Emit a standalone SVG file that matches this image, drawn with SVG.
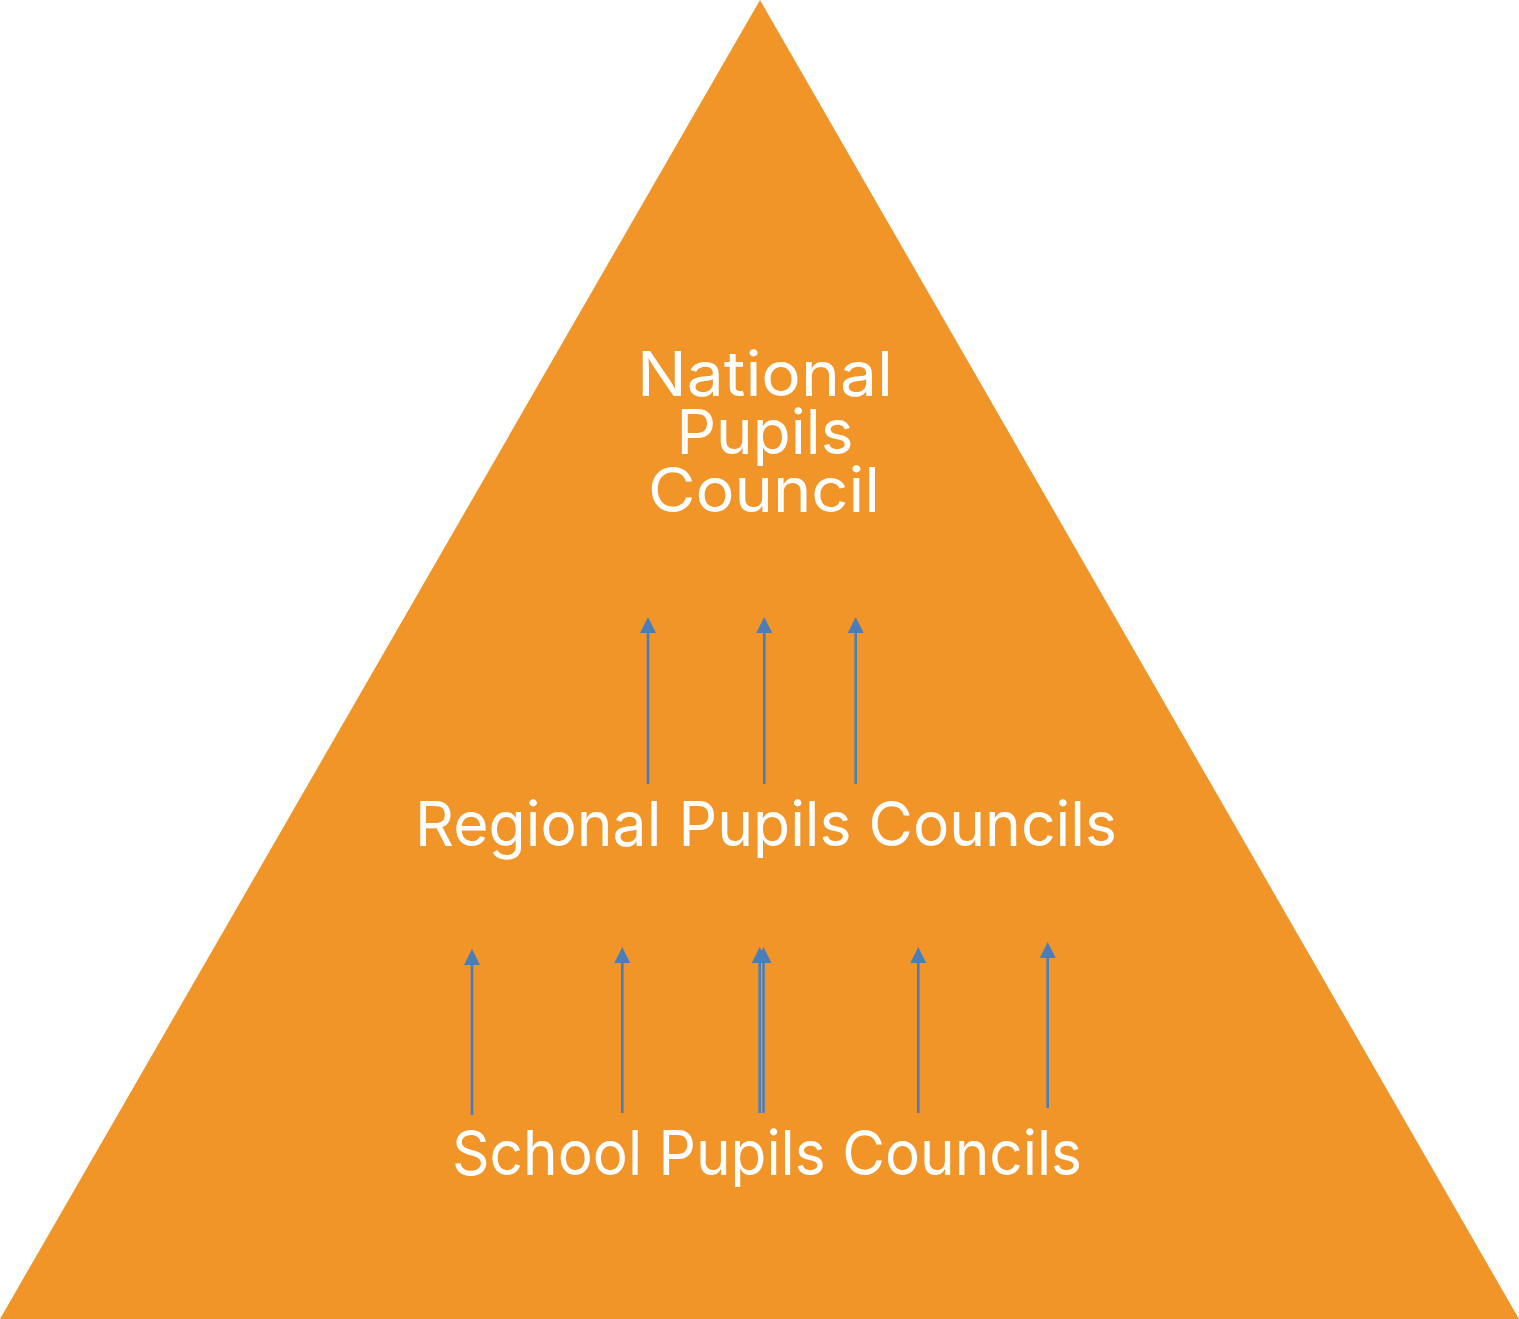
<svg xmlns="http://www.w3.org/2000/svg" width="1519" height="1319" viewBox="0 0 1519 1319">
<style>
.lbl{font-family:Inter,"Noto Sans","Liberation Sans",sans-serif;font-size:62px;fill:#ffffff;text-anchor:middle}
.arr{stroke:#4A7EBB;stroke-width:2.6;fill:none}
</style>
<defs>
<marker id="ah" viewBox="0 0 16 16" refX="0" refY="8" markerWidth="16" markerHeight="16" markerUnits="userSpaceOnUse" orient="auto">
<path d="M0,0 L16,8 L0,16 z" fill="#4A7EBB"/>
</marker>
</defs>
<g id="pyramid">
<polygon points="760,0 1519,1319 0,1319" fill="#F29528"/>
</g>
<g id="national">
<text class="lbl" x="765" y="396" textLength="256" lengthAdjust="spacingAndGlyphs">National</text>
<text class="lbl" x="765" y="454" textLength="177" lengthAdjust="spacingAndGlyphs">Pupils</text>
<text class="lbl" x="764" y="512" textLength="232" lengthAdjust="spacingAndGlyphs">Council</text>
</g>
<g id="regional">
<text class="lbl" x="766" y="846" textLength="702" lengthAdjust="spacingAndGlyphs">Regional Pupils Councils</text>
</g>
<g id="school">
<text class="lbl" x="767" y="1175" textLength="630" lengthAdjust="spacingAndGlyphs">School Pupils Councils</text>
</g>
<g id="connectors">
<line class="arr" x1="648" y1="784" x2="648" y2="633" marker-end="url(#ah)"/>
<line class="arr" x1="764.3" y1="784" x2="764.3" y2="633" marker-end="url(#ah)"/>
<line class="arr" x1="855.7" y1="784" x2="855.7" y2="633" marker-end="url(#ah)"/>
<line class="arr" x1="472" y1="1115" x2="472" y2="965" marker-end="url(#ah)"/>
<line class="arr" x1="622.3" y1="1113" x2="622.3" y2="963" marker-end="url(#ah)"/>
<line class="arr" x1="759.7" y1="1113" x2="759.7" y2="963" marker-end="url(#ah)"/>
<line class="arr" x1="763.5" y1="1113" x2="763.5" y2="963" marker-end="url(#ah)"/>
<line class="arr" x1="918.3" y1="1113" x2="918.3" y2="963" marker-end="url(#ah)"/>
<line class="arr" x1="1047.7" y1="1108" x2="1047.7" y2="958" marker-end="url(#ah)"/>
</g>
</svg>
